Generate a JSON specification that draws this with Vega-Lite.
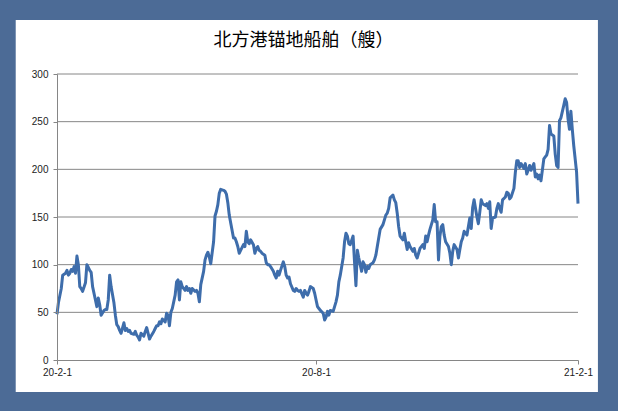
{
  "$schema": "https://vega.github.io/schema/vega-lite/v6.json",
  "width": 521,
  "height": 286,
  "autosize": {"type": "none"},
  "padding": {"left": 57, "top": 74, "right": 40, "bottom": 51},
  "background": "#4c6b96",
  "title": {"text": "北方港锚地船舶（艘）", "font": "Noto Sans CJK SC", "fontSize": 18, "fontWeight": "normal", "color": "#000000", "anchor": "middle", "dx": -14, "offset": -30, "zindex": 2},
  "config": {"view": {"stroke": null}},
  "data": {"values": [
    {"date":"2020-02-01","ships":48},{"date":"2020-02-02","ships":60},{"date":"2020-02-04","ships":75},{"date":"2020-02-05","ships":89},{"date":"2020-02-07","ships":91},{"date":"2020-02-08","ships":94},{"date":"2020-02-09","ships":89},{"date":"2020-02-10","ships":91},{"date":"2020-02-11","ships":95},{"date":"2020-02-12","ships":93},{"date":"2020-02-13","ships":98},{"date":"2020-02-14","ships":91},{"date":"2020-02-15","ships":109},{"date":"2020-02-16","ships":100},{"date":"2020-02-17","ships":77},{"date":"2020-02-18","ships":75},{"date":"2020-02-19","ships":72},{"date":"2020-02-21","ships":81},{"date":"2020-02-22","ships":100},{"date":"2020-02-23","ships":97},{"date":"2020-02-24","ships":94},{"date":"2020-02-25","ships":92},{"date":"2020-02-26","ships":77},{"date":"2020-02-28","ships":63},{"date":"2020-02-29","ships":56},
    {"date":"2020-03-01","ships":65},{"date":"2020-03-02","ships":58},{"date":"2020-03-03","ships":47},{"date":"2020-03-05","ships":52},{"date":"2020-03-06","ships":53},{"date":"2020-03-07","ships":53},{"date":"2020-03-08","ships":63},{"date":"2020-03-09","ships":89},{"date":"2020-03-10","ships":77},{"date":"2020-03-12","ships":60},{"date":"2020-03-13","ships":47},{"date":"2020-03-14","ships":37},{"date":"2020-03-15","ships":35},{"date":"2020-03-16","ships":31},{"date":"2020-03-17","ships":28},{"date":"2020-03-19","ships":39},{"date":"2020-03-20","ships":31},{"date":"2020-03-21","ships":33},{"date":"2020-03-22","ships":30},{"date":"2020-03-23","ships":31},{"date":"2020-03-24","ships":28},{"date":"2020-03-26","ships":27},{"date":"2020-03-27","ships":30},{"date":"2020-03-28","ships":26},{"date":"2020-03-29","ships":24},{"date":"2020-03-30","ships":21},{"date":"2020-03-31","ships":28},
    {"date":"2020-04-02","ships":25},{"date":"2020-04-03","ships":30},{"date":"2020-04-04","ships":34},{"date":"2020-04-05","ships":28},{"date":"2020-04-06","ships":22},{"date":"2020-04-07","ships":25},{"date":"2020-04-09","ships":30},{"date":"2020-04-10","ships":33},{"date":"2020-04-11","ships":36},{"date":"2020-04-12","ships":36},{"date":"2020-04-13","ships":40},{"date":"2020-04-14","ships":38},{"date":"2020-04-15","ships":43},{"date":"2020-04-17","ships":40},{"date":"2020-04-18","ships":49},{"date":"2020-04-19","ships":47},{"date":"2020-04-20","ships":36},{"date":"2020-04-21","ships":50},{"date":"2020-04-22","ships":54},{"date":"2020-04-24","ships":68},{"date":"2020-04-25","ships":82},{"date":"2020-04-26","ships":84},{"date":"2020-04-27","ships":63},{"date":"2020-04-28","ships":82},{"date":"2020-04-29","ships":77},
    {"date":"2020-05-01","ships":73},{"date":"2020-05-02","ships":77},{"date":"2020-05-03","ships":73},{"date":"2020-05-04","ships":75},{"date":"2020-05-05","ships":70},{"date":"2020-05-06","ships":75},{"date":"2020-05-08","ships":72},{"date":"2020-05-09","ships":73},{"date":"2020-05-10","ships":70},{"date":"2020-05-11","ships":61},{"date":"2020-05-12","ships":79},{"date":"2020-05-14","ships":93},{"date":"2020-05-15","ships":105},{"date":"2020-05-16","ships":110},{"date":"2020-05-17","ships":113},{"date":"2020-05-18","ships":108},{"date":"2020-05-19","ships":101},{"date":"2020-05-21","ships":124},{"date":"2020-05-22","ships":151},{"date":"2020-05-23","ships":156},{"date":"2020-05-24","ships":163},{"date":"2020-05-25","ships":175},{"date":"2020-05-26","ships":179},{"date":"2020-05-28","ships":178},{"date":"2020-05-29","ships":177},{"date":"2020-05-30","ships":174},{"date":"2020-05-31","ships":165},
    {"date":"2020-06-01","ships":152},{"date":"2020-06-02","ships":144},{"date":"2020-06-04","ships":128},{"date":"2020-06-05","ships":128},{"date":"2020-06-06","ships":124},{"date":"2020-06-07","ships":119},{"date":"2020-06-08","ships":112},{"date":"2020-06-09","ships":115},{"date":"2020-06-11","ships":121},{"date":"2020-06-12","ships":119},{"date":"2020-06-13","ships":135},{"date":"2020-06-14","ships":124},{"date":"2020-06-15","ships":122},{"date":"2020-06-16","ships":126},{"date":"2020-06-18","ships":121},{"date":"2020-06-19","ships":112},{"date":"2020-06-20","ships":117},{"date":"2020-06-21","ships":119},{"date":"2020-06-22","ships":115},{"date":"2020-06-23","ships":114},{"date":"2020-06-24","ships":112},{"date":"2020-06-26","ships":110},{"date":"2020-06-27","ships":102},{"date":"2020-06-28","ships":100},{"date":"2020-06-29","ships":100},{"date":"2020-06-30","ships":98},
    {"date":"2020-07-02","ships":93},{"date":"2020-07-03","ships":89},{"date":"2020-07-04","ships":86},{"date":"2020-07-05","ships":93},{"date":"2020-07-06","ships":89},{"date":"2020-07-07","ships":94},{"date":"2020-07-09","ships":103},{"date":"2020-07-10","ships":98},{"date":"2020-07-11","ships":89},{"date":"2020-07-12","ships":86},{"date":"2020-07-13","ships":87},{"date":"2020-07-14","ships":80},{"date":"2020-07-16","ships":73},{"date":"2020-07-17","ships":72},{"date":"2020-07-18","ships":75},{"date":"2020-07-19","ships":73},{"date":"2020-07-20","ships":72},{"date":"2020-07-21","ships":73},{"date":"2020-07-23","ships":66},{"date":"2020-07-24","ships":73},{"date":"2020-07-25","ships":70},{"date":"2020-07-26","ships":68},{"date":"2020-07-27","ships":72},{"date":"2020-07-28","ships":77},{"date":"2020-07-30","ships":75},{"date":"2020-07-31","ships":70},
    {"date":"2020-08-01","ships":63},{"date":"2020-08-02","ships":56},{"date":"2020-08-03","ships":54},{"date":"2020-08-04","ships":52},{"date":"2020-08-06","ships":49},{"date":"2020-08-07","ships":42},{"date":"2020-08-08","ships":45},{"date":"2020-08-09","ships":51},{"date":"2020-08-10","ships":47},{"date":"2020-08-11","ships":52},{"date":"2020-08-13","ships":51},{"date":"2020-08-14","ships":56},{"date":"2020-08-15","ships":61},{"date":"2020-08-16","ships":68},{"date":"2020-08-17","ships":82},{"date":"2020-08-18","ships":89},{"date":"2020-08-20","ships":107},{"date":"2020-08-21","ships":124},{"date":"2020-08-22","ships":133},{"date":"2020-08-23","ships":130},{"date":"2020-08-24","ships":122},{"date":"2020-08-25","ships":121},{"date":"2020-08-27","ships":130},{"date":"2020-08-28","ships":103},{"date":"2020-08-29","ships":78},{"date":"2020-08-30","ships":115},{"date":"2020-08-31","ships":107},
    {"date":"2020-09-02","ships":93},{"date":"2020-09-03","ships":103},{"date":"2020-09-04","ships":100},{"date":"2020-09-05","ships":92},{"date":"2020-09-06","ships":98},{"date":"2020-09-07","ships":96},{"date":"2020-09-08","ships":100},{"date":"2020-09-10","ships":102},{"date":"2020-09-11","ships":105},{"date":"2020-09-12","ships":110},{"date":"2020-09-13","ships":119},{"date":"2020-09-14","ships":128},{"date":"2020-09-15","ships":137},{"date":"2020-09-17","ships":142},{"date":"2020-09-18","ships":147},{"date":"2020-09-19","ships":152},{"date":"2020-09-20","ships":154},{"date":"2020-09-21","ships":159},{"date":"2020-09-22","ships":170},{"date":"2020-09-24","ships":173},{"date":"2020-09-25","ships":168},{"date":"2020-09-26","ships":165},{"date":"2020-09-27","ships":154},{"date":"2020-09-28","ships":140},{"date":"2020-09-29","ships":130},
    {"date":"2020-10-01","ships":126},{"date":"2020-10-02","ships":133},{"date":"2020-10-03","ships":124},{"date":"2020-10-04","ships":116},{"date":"2020-10-05","ships":123},{"date":"2020-10-06","ships":119},{"date":"2020-10-08","ships":114},{"date":"2020-10-09","ships":117},{"date":"2020-10-10","ships":110},{"date":"2020-10-11","ships":107},{"date":"2020-10-12","ships":112},{"date":"2020-10-13","ships":117},{"date":"2020-10-15","ships":121},{"date":"2020-10-16","ships":117},{"date":"2020-10-17","ships":130},{"date":"2020-10-18","ships":124},{"date":"2020-10-19","ships":131},{"date":"2020-10-20","ships":137},{"date":"2020-10-22","ships":147},{"date":"2020-10-23","ships":163},{"date":"2020-10-24","ships":145},{"date":"2020-10-25","ships":145},{"date":"2020-10-26","ships":105},{"date":"2020-10-27","ships":130},{"date":"2020-10-28","ships":140},{"date":"2020-10-29","ships":142},{"date":"2020-10-30","ships":131},{"date":"2020-10-31","ships":124},
    {"date":"2020-11-02","ships":119},{"date":"2020-11-03","ships":112},{"date":"2020-11-04","ships":100},{"date":"2020-11-05","ships":114},{"date":"2020-11-06","ships":121},{"date":"2020-11-08","ships":116},{"date":"2020-11-09","ships":107},{"date":"2020-11-10","ships":116},{"date":"2020-11-11","ships":124},{"date":"2020-11-12","ships":128},{"date":"2020-11-13","ships":135},{"date":"2020-11-15","ships":131},{"date":"2020-11-16","ships":140},{"date":"2020-11-17","ships":149},{"date":"2020-11-18","ships":138},{"date":"2020-11-19","ships":160},{"date":"2020-11-20","ships":168},{"date":"2020-11-22","ships":150},{"date":"2020-11-23","ships":143},{"date":"2020-11-24","ships":155},{"date":"2020-11-25","ships":168},{"date":"2020-11-26","ships":164},{"date":"2020-11-28","ships":162},{"date":"2020-11-29","ships":164},{"date":"2020-11-30","ships":159},
    {"date":"2020-12-01","ships":166},{"date":"2020-12-02","ships":138},{"date":"2020-12-03","ships":149},{"date":"2020-12-05","ships":150},{"date":"2020-12-06","ships":159},{"date":"2020-12-07","ships":164},{"date":"2020-12-08","ships":159},{"date":"2020-12-09","ships":155},{"date":"2020-12-10","ships":168},{"date":"2020-12-12","ships":171},{"date":"2020-12-13","ships":176},{"date":"2020-12-14","ships":175},{"date":"2020-12-15","ships":169},{"date":"2020-12-16","ships":171},{"date":"2020-12-18","ships":180},{"date":"2020-12-19","ships":197},{"date":"2020-12-20","ships":209},{"date":"2020-12-21","ships":209},{"date":"2020-12-22","ships":202},{"date":"2020-12-23","ships":206},{"date":"2020-12-25","ships":201},{"date":"2020-12-26","ships":206},{"date":"2020-12-27","ships":195},{"date":"2020-12-28","ships":199},{"date":"2020-12-29","ships":204},{"date":"2020-12-30","ships":199},
    {"date":"2021-01-01","ships":206},{"date":"2021-01-02","ships":192},{"date":"2021-01-03","ships":195},{"date":"2021-01-04","ships":190},{"date":"2021-01-05","ships":194},{"date":"2021-01-06","ships":188},{"date":"2021-01-08","ships":211},{"date":"2021-01-09","ships":213},{"date":"2021-01-10","ships":215},{"date":"2021-01-11","ships":221},{"date":"2021-01-12","ships":246},{"date":"2021-01-13","ships":237},{"date":"2021-01-15","ships":235},{"date":"2021-01-16","ships":216},{"date":"2021-01-17","ships":204},{"date":"2021-01-18","ships":202},{"date":"2021-01-19","ships":251},{"date":"2021-01-20","ships":254},{"date":"2021-01-22","ships":267},{"date":"2021-01-23","ships":274},{"date":"2021-01-24","ships":270},{"date":"2021-01-25","ships":253},{"date":"2021-01-26","ships":242},{"date":"2021-01-27","ships":261},{"date":"2021-01-28","ships":242},{"date":"2021-01-29","ships":225},{"date":"2021-01-31","ships":197},{"date":"2021-02-01","ships":164}
  ]},
  "layer": [
    {
      "data": {"values": [{"panel": "frame"}]},
      "mark": {"type": "rect", "color": "#ffffff", "clip": false},
      "encoding": {
        "x": {"datum": {"year": 2020, "month": 1, "date": 3, "utc": true}, "type": "temporal", "scale": {"type": "utc", "domain": [{"year": 2020, "month": 2, "date": 1, "utc": true}, {"year": 2021, "month": 2, "date": 1, "utc": true}]}},
        "x2": {"datum": {"year": 2021, "month": 2, "date": 15, "utc": true}},
        "y": {"datum": -33.6, "type": "quantitative", "scale": {"domain": [0, 300]}},
        "y2": {"datum": 356.6}
      }
    },
    {
      "data": {"values": [{"g": 50}, {"g": 100}, {"g": 150}, {"g": 200}, {"g": 250}, {"g": 300}]},
      "mark": {"type": "rule", "color": "#868686", "strokeWidth": 1},
      "encoding": {
        "y": {"field": "g", "type": "quantitative", "scale": {"domain": [0, 300]}}
      }
    },
    {
      "mark": {"type": "line", "color": "#3e6dab", "strokeWidth": 3, "strokeJoin": "round"},
      "encoding": {
        "x": {
          "field": "date", "type": "temporal",
          "scale": {"type": "utc", "domain": [{"year": 2020, "month": 2, "date": 1, "utc": true}, {"year": 2021, "month": 2, "date": 1, "utc": true}]},
          "axis": {
            "title": null, "grid": false, "zindex": 1,
            "values": [{"year": 2020, "month": 2, "date": 1, "utc": true}, {"year": 2020, "month": 8, "date": 1, "utc": true}, {"year": 2021, "month": 2, "date": 1, "utc": true}],
            "labelExpr": "utcFormat(datum.value, '%y-%-m-%-d')",
            "labelFlush": false, "labelOverlap": false,
            "tickSize": 4, "tickColor": "#868686", "domainColor": "#868686",
            "labelFont": "Liberation Sans", "labelFontSize": 10, "labelColor": "#222222", "labelPadding": 3
          }
        },
        "y": {
          "field": "ships", "type": "quantitative",
          "scale": {"domain": [0, 300]},
          "axis": {
            "title": null, "grid": false, "zindex": 1,
            "values": [0, 50, 100, 150, 200, 250, 300],
            "tickSize": 4, "tickColor": "#868686", "domainColor": "#868686",
            "labelFont": "Liberation Sans", "labelFontSize": 10, "labelColor": "#222222", "labelPadding": 5
          }
        }
      }
    }
  ]
}
